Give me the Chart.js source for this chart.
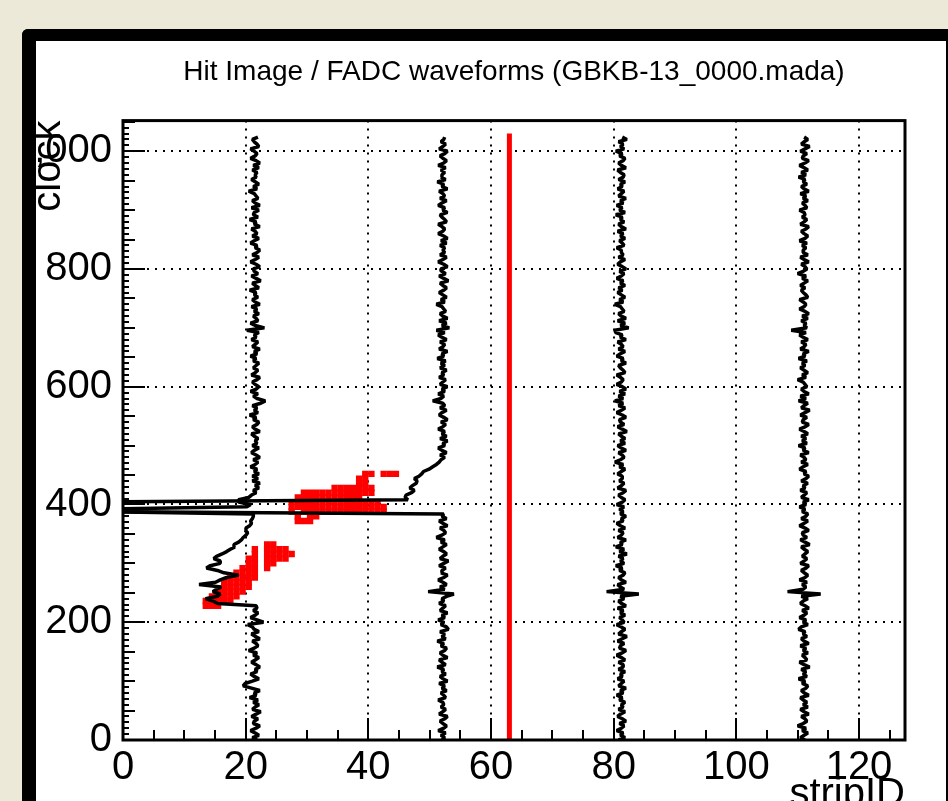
<!DOCTYPE html>
<html>
<head>
<meta charset="utf-8">
<script src="https://cdn.jsdelivr.net/npm/chart.js@4.4.1/dist/chart.umd.min.js"></script>
<style>
  body { margin: 0; background: #ece9d8; overflow: hidden; width: 948px; height: 801px; }
  #panel { position: absolute; left: 22px; top: 29px; width: 910px; height: 800px; background: #fff;
           border-left: 14px solid #000; border-top: 12px solid #000; border-right: 2px solid #000;
           border-top-left-radius: 6px; overflow: hidden; }
  #c { position: absolute; left: 0; top: 0; }
</style>
</head>
<body>
<div id="panel"><canvas id="c" width="910" height="800"></canvas></div>
<script>
// Hit image / FADC waveforms, strip vs clock
const TITLE = 'Hit Image / FADC waveforms (GBKB-13_0000.mada)';
const CLOCK_STEP = 4;          // one waveform sample every 4 clocks
const HIT_BIN = 8;             // hit image clock bin
const ADC_SCALE = 0.15;        // strips per waveform unit

// strips that carry a waveform (baseline position)
const waveStrips = [21.4, 52.0, 81.1, 110.9];

// waveform samples (clock 0, 4, ... 1024), 16 per row
const wave1 = [
  3,-2,5,1,-4,2,6,-1,0,4,-3,2,7,-2,1,5,
  -1,4,-5,2,0,6,-3,-12,-10,-2,5,0,-4,3,1,6,
  2,-3,1,5,-1,3,-6,0,4,2,-2,6,1,-3,5,0,
  -2,-7,10,3,-4,1,4,-1,3,2,-40,-45,-53,-40,-37,-45,
  -41,-36,-60,-42,-37,-30,-17,-33,-40,-52,-48,-37,-37,-44,-41,-35,
  -30,-26,-21,-22,-17,-14,-12,-9,-7,-10,-9,-5,-3,-4,-2,-1,
  -1,-170,-170,-8,-4,-17,-17,-6,-3,2,-1,5,1,6,-2,4,
  -2,5,0,3,-4,1,4,-1,6,2,-3,0,5,-2,3,1,
  4,0,-3,6,1,-2,3,5,-1,2,-5,4,0,3,-2,7,
  12,3,-1,4,-4,2,5,1,-2,3,6,-3,1,4,-1,2,
  5,-1,2,-4,3,0,6,-2,1,4,-3,2,0,5,-8,11,
  1,-4,4,2,-1,5,0,3,-3,6,1,-2,4,0,2,-5,
  5,1,-2,7,2,-3,4,0,-1,6,2,-4,1,5,-2,3,
  6,1,3,-4,0,5,-2,3,1,-3,6,0,2,-5,4,-1,
  0,5,-3,6,1,-2,4,2,0,-6,3,-1,5,1,-3,2,
  1,3,-2,5,-1,6,2,-4,1,3,0,-4,5,3,0,-2,
  4];
const wave2 = [
  0,3,-1,4,-4,2,5,1,-2,3,6,-3,1,4,-1,2,
  1,-4,4,2,-1,5,0,3,-3,6,1,-2,4,0,2,-5,
  4,0,-3,6,1,-2,3,5,-1,2,-5,4,0,3,-2,7,
  5,-1,2,-4,3,0,6,-2,1,4,-3,2,0,5,13,-15,
  3,-2,5,1,-4,2,6,-1,0,4,-3,2,7,-2,1,5,
  2,-3,1,5,-1,3,-6,0,4,2,-2,6,1,-3,5,0,
  2,-400,-400,-400,-400,-400,-37,-40,-39,-33,-30,-35,-32,-28,-27,-30,
  -25,-22,-20,-14,-10,-6,-3,-1,3,-2,5,0,-4,3,1,6,
  -2,5,0,3,-4,1,4,-1,6,2,-3,0,5,-2,3,1,
  -10,-1,2,-4,3,0,6,-2,1,4,-3,2,0,5,-2,3,
  -1,4,-5,2,0,6,-3,1,3,-2,5,0,-4,3,-6,8,
  0,5,-3,6,1,-2,4,2,0,-6,3,-1,5,1,-3,2,
  5,1,-2,7,2,-3,4,0,-1,6,2,-4,1,5,-2,3,
  1,3,-2,5,-1,6,2,-4,1,3,0,-4,5,3,0,-2,
  6,1,3,-4,0,5,-2,3,1,-3,6,0,2,-5,4,-1,
  0,3,-1,4,-4,2,5,1,-2,3,6,-3,1,4,-1,2,
  3];
const wave3 = [
  -2,5,0,3,-4,1,4,-1,6,2,-3,0,5,-2,3,1,
  5,-1,2,-4,3,0,6,-2,1,4,-3,2,0,5,-2,3,
  3,-2,5,1,-4,2,6,-1,0,4,-3,2,7,-2,1,5,
  1,-4,4,2,-1,5,0,3,-3,6,1,-2,4,0,20,-15,
  4,0,-3,6,1,-2,3,5,-1,2,-5,4,0,3,-2,7,
  -1,4,-5,2,0,6,-3,1,3,-2,5,0,-4,3,1,6,
  0,3,-1,4,-4,2,5,1,-2,3,6,-3,1,4,-1,2,
  2,-3,1,5,-1,3,-6,0,4,2,-2,6,1,-3,5,0,
  5,1,-2,7,2,-3,4,0,-1,6,2,-4,1,5,-2,3,
  -6,3,-2,5,-1,6,2,-4,1,3,0,-4,5,3,0,-2,
  6,1,3,-4,0,5,-2,3,1,-3,6,0,2,-5,-6,9,
  0,5,-3,6,1,-2,4,2,0,-6,3,-1,5,1,-3,2,
  -2,5,0,3,-4,1,4,-1,6,2,-3,0,5,-2,3,1,
  1,-4,4,2,-1,5,0,3,-3,6,1,-2,4,0,2,-5,
  5,-1,2,-4,3,0,6,-2,1,4,-3,2,0,5,-2,3,
  4,0,-3,6,1,-2,3,5,-1,2,-5,4,0,3,-2,7,
  2];
const wave4 = [
  2,-3,1,5,-1,3,-6,0,4,2,-2,6,1,-3,5,0,
  4,0,-3,6,1,-2,3,5,-1,2,-5,4,0,3,-2,7,
  1,-4,4,2,-1,5,0,3,-3,6,1,-2,4,0,2,-5,
  -2,5,0,3,-4,1,4,-1,6,2,-3,0,5,-2,19,-17,
  0,3,-1,4,-4,2,5,1,-2,3,6,-3,1,4,-1,2,
  5,1,-2,7,2,-3,4,0,-1,6,2,-4,1,5,-2,3,
  5,-1,2,-4,3,0,6,-2,1,4,-3,2,0,5,-2,3,
  6,1,3,-4,0,5,-2,3,1,-3,6,0,2,-5,4,-1,
  3,-2,5,1,-4,2,6,-1,0,4,-3,2,7,-2,1,5,
  -5,3,-3,6,1,-2,4,2,0,-6,3,-1,5,1,-3,2,
  -1,4,-5,2,0,6,-3,1,3,-2,5,0,-4,3,-13,4,
  1,3,-2,5,-1,6,2,-4,1,3,0,-4,5,3,0,-2,
  2,-3,1,5,-1,3,-6,0,4,2,-2,6,1,-3,5,0,
  0,3,-1,4,-4,2,5,1,-2,3,6,-3,1,4,-1,2,
  1,-4,4,2,-1,5,0,3,-3,6,1,-2,4,0,2,-5,
  3,-2,5,1,-4,2,6,-1,0,4,-3,2,7,-2,1,5,
  1];
const waves = [wave1, wave2, wave3, wave4];

// hit image: strip and the clock bins (8 clocks wide) that fired
const hitStrips = [13, 14, 15, 16, 17, 18, 19, 20, 21, 23, 24, 25, 26, 27,
  27, 28, 29, 30, 31, 32, 33, 34, 35, 36, 37, 38, 39, 40, 41, 42, 43, 44];
const hitClocks = [
  [224, 232], [224, 232, 240], [224, 232, 240, 248], [232, 240, 248, 256, 264],
  [232, 240, 248, 256, 264, 272], [240, 248, 256, 264, 272, 280],
  [248, 256, 264, 272, 280, 288], [256, 264, 272, 280, 288, 296, 304],
  [272, 280, 288, 296, 304, 312, 320], [288, 296, 304, 312, 320, 328],
  [296, 304, 312, 320, 328], [304, 312, 320], [304, 312, 320], [312],
  [384, 392, 400], [368, 376, 392, 400, 408], [368, 384, 392, 400, 408, 416],
  [368, 376, 384, 392, 400, 408, 416], [376, 384, 392, 400, 408, 416],
  [384, 392, 400, 408, 416], [384, 392, 400, 408, 416], [384, 392, 400, 408, 416, 424],
  [384, 392, 400, 408, 416, 424], [384, 392, 400, 408, 416, 424],
  [384, 392, 400, 408, 416, 424], [384, 392, 400, 408, 416, 424, 432, 440],
  [384, 392, 400, 416, 424, 432, 440, 448], [384, 392, 400, 416, 424, 448],
  [384, 392, 400], [384, 392, 448], [448], [448]];

// red marker strip
const markerStrip = 63;
const markerClocks = [0, 1030];

const xTicks = { min: 0, max: 127.5, step: 20 };
const yTicks = { min: 0, max: 1052, step: 200 };

const FONT = 'Liberation Sans, Arial, Helvetica, sans-serif';

const waveSets = waves.map((w, k) => ({
  data: w.map((v, i) => ({ x: waveStrips[k] + v * ADC_SCALE, y: i * CLOCK_STEP })),
  showLine: true,
  pointRadius: 0,
  borderColor: '#000',
  borderWidth: 3.5,
  borderJoinStyle: 'bevel',
  order: 1
}));

const hitData = [];
hitStrips.forEach((s, k) => {
  for (let c of hitClocks[k]) hitData.push({ x: s + 0.5, y: c + HIT_BIN / 2 });
});

// ROOT style frame with ticks pointing inside
const rootFrame = {
  id: 'rootFrame',
  afterDatasetsDraw(chart) {
    const { ctx, chartArea: a, scales: { x, y } } = chart;
    ctx.save();
    ctx.strokeStyle = '#000';
    ctx.lineWidth = 2;
    ctx.beginPath();
    for (let v = 0; v <= x.max; v += 5) {
      const px = Math.round(x.getPixelForValue(v));
      const len = v % 20 === 0 ? 22 : 10;
      ctx.moveTo(px, a.bottom);
      ctx.lineTo(px, a.bottom - len);
    }
    for (let v = 0; v <= y.max; v += 10) {
      const py = Math.round(y.getPixelForValue(v));
      const len = v % 200 === 0 ? 22 : (v % 50 === 0 ? 12 : 6);
      ctx.moveTo(a.left, py);
      ctx.lineTo(a.left + len, py);
    }
    ctx.stroke();
    ctx.lineWidth = 3;
    ctx.strokeRect(a.left, a.top, a.right - a.left, a.bottom - a.top);
    ctx.restore();
  }
};

const gridColor = (c) => (c.tick && c.tick.value === 0) ? 'rgba(0,0,0,0)' : '#000';

new Chart(document.getElementById('c'), {
  type: 'scatter',
  data: {
    datasets: [
      ...waveSets,
      {
        data: markerClocks.map(c => ({ x: markerStrip, y: c })),
        showLine: true, pointRadius: 0, borderColor: '#ff0000', borderWidth: 5, order: 2
      },
      {
        data: hitData,
        pointStyle: 'rect', pointRadius: 4.5, backgroundColor: '#ff0000',
        borderWidth: 0, order: 3
      }
    ]
  },
  options: {
    responsive: false,
    animation: false,
    devicePixelRatio: 1,
    layout: { padding: { left: 0, right: 41, top: 0, bottom: 0 } },
    plugins: {
      legend: { display: false },
      tooltip: { enabled: false },
      title: {
        display: true, text: TITLE, fullSize: false, color: '#000',
        font: { family: FONT, size: 28, weight: 'normal' },
        padding: { top: 14, bottom: 32 }
      }
    },
    scales: {
      x: {
        type: 'linear', min: xTicks.min, max: xTicks.max,
        afterFit: (s) => { s.height = 101; },
        ticks: { stepSize: xTicks.step, includeBounds: false, padding: 4, color: '#000',
                 maxRotation: 0, autoSkip: false, font: { family: FONT, size: 40 } },
        grid: { drawTicks: false, color: gridColor, lineWidth: 2 },
        border: { display: false, dash: [2, 6] },
        title: { display: true, text: 'stripID', align: 'end', color: '#000',
                 font: { family: FONT, size: 40 }, padding: { top: 0, bottom: 22 } }
      },
      y: {
        type: 'linear', min: yTicks.min, max: yTicks.max,
        afterFit: (s) => { s.width = 87; },
        ticks: { stepSize: yTicks.step, includeBounds: false, padding: 11, color: '#000',
                 autoSkip: false, font: { family: FONT, size: 40 } },
        grid: { drawTicks: false, color: gridColor, lineWidth: 2 },
        border: { display: false, dash: [2, 6] },
        title: { display: true, text: 'clock', align: 'end', color: '#000',
                 font: { family: FONT, size: 40 }, padding: { top: -11, bottom: 0 } }
      }
    }
  },
  plugins: [rootFrame]
});
</script>
</body>
</html>
